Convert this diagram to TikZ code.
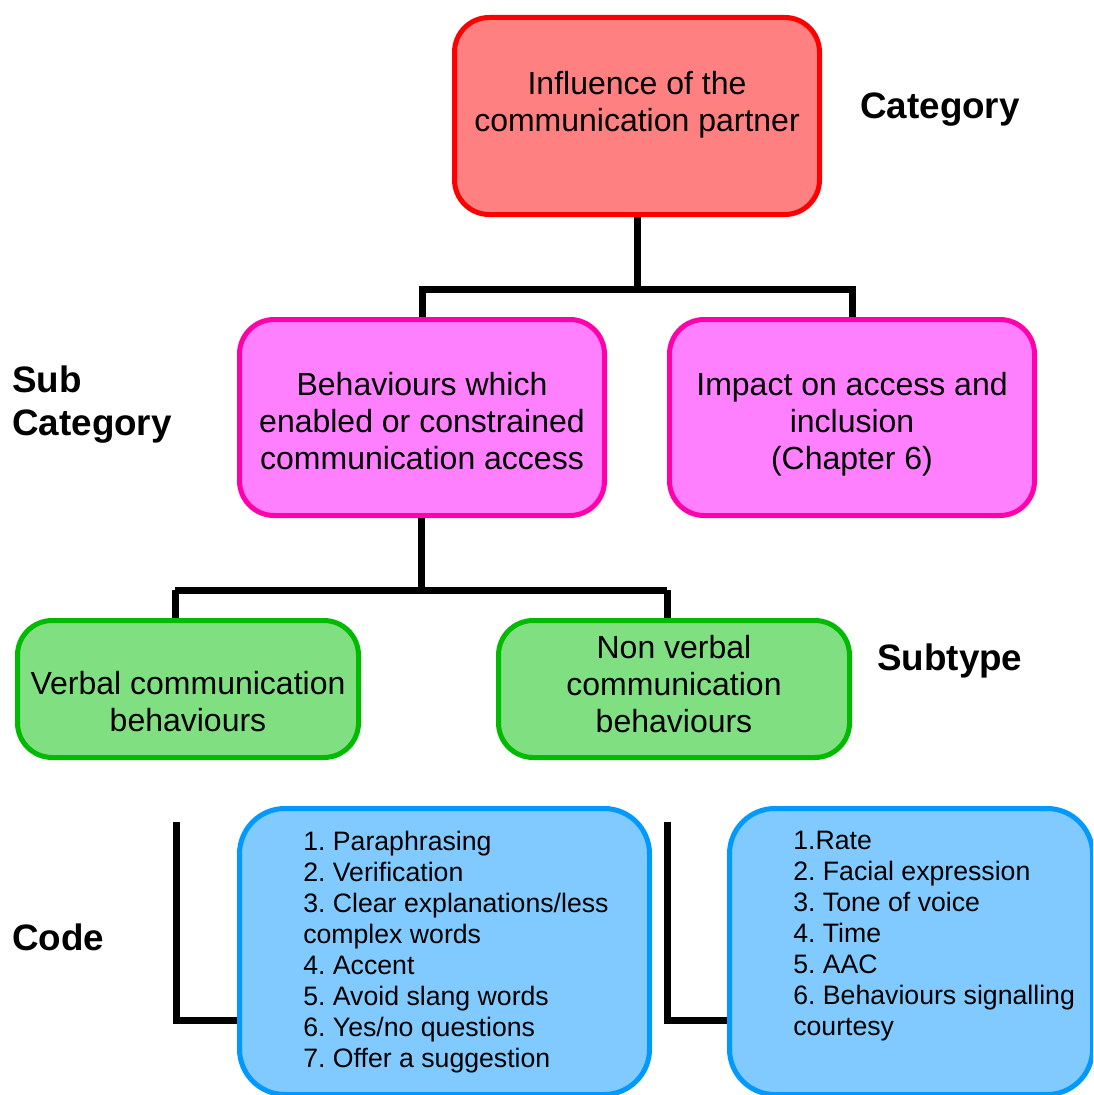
\documentclass[tikz,border=0pt]{standalone}
\usepackage{fontspec}
\setmainfont{Liberation Sans}
\frenchspacing
\begin{document}
\begin{tikzpicture}[x=0.75pt,y=-0.75pt,
  box/.style={draw,line width=3.75pt,rounded corners=26pt,inner sep=0pt},
  catbox/.style={box,draw=red,fill=catfill},
  subbox/.style={box,draw=subedge,fill=subfill},
  typebox/.style={box,draw=typeedge,fill=typefill},
  codebox/.style={box,draw=codeedge,fill=codefill,rounded corners=34pt},
  conn/.style={line width=5.25pt,black},
  boxtext/.style={inner sep=0pt,align=center,font=\fontsize{24}{27.75}\selectfont},
  listtext/.style={inner sep=0pt,align=left,anchor=north west,font=\fontsize{20}{23.25}\selectfont},
  level/.style={inner sep=0pt,align=left,anchor=west,font=\fontsize{27.6}{32.25}\selectfont\bfseries}
]
\definecolor{catfill}{HTML}{FF8080}
\definecolor{subedge}{HTML}{FF00AA}
\definecolor{subfill}{HTML}{FF80FF}
\definecolor{typeedge}{HTML}{00BB00}
\definecolor{typefill}{HTML}{80DF80}
\definecolor{codeedge}{HTML}{0099FF}
\definecolor{codefill}{HTML}{80CAFF}

\clip (0,0) rectangle (1093,1095);

% boxes
\node[catbox,minimum width=273.75pt,minimum height=147.75pt] (cat) at (637,116) {};
\node[subbox,minimum width=273.75pt,minimum height=147pt] (subL) at (422,417.5) {};
\node[subbox,minimum width=273.75pt,minimum height=147pt] (subR) at (852,417.5) {};
\node[typebox,minimum width=255.75pt,minimum height=102.75pt] (typeL) at (188,689) {};
\node[typebox,minimum width=263.25pt,minimum height=102.75pt] (typeR) at (674,689) {};
\node[codebox,minimum width=307.5pt,minimum height=214.5pt] (codeL) at (444.5,951.5) {};
\node[codebox,minimum width=272.25pt,minimum height=214.5pt] (codeR) at (911,951.5) {};

% box texts
\node[boxtext] (catT) at (637,105) {Influence of the\\communication partner};
\node[boxtext] (subLT) at (422,421) {Behaviours which\\enabled or constrained\\communication access};
\node[boxtext] (subRT) at (852,424) {Impact on access and\\inclusion\\(Chapter 6)};
\node[boxtext] (typeLT) at (188,702) {Verbal communication\\behaviours};
\node[boxtext] (typeRT) at (674,684) {Non verbal\\communication\\behaviours};
\node[listtext] (codeLT) at (303,831) {1. Paraphrasing\\2. Verification\\3. Clear explanations/less\\complex words\\4. Accent\\5. Avoid slang words\\6. Yes/no questions\\7. Offer a suggestion};
\node[listtext] (codeRT) at (793,831) {1.Rate\\2. Facial expression\\3. Tone of voice\\4. Time\\5. AAC\\6. Behaviours signalling\\courtesy};

% level labels
\node[level] (lvCat) at (860,110) {Category};
\node[level] (lvSub) at (12,405) {Sub\\Category};
\node[level] (lvType) at (877,661) {Subtype};
\node[level] (lvCode) at (12,937) {Code};

% connectors
\coordinate (j1) at (637,289);
\draw[conn] (cat.south) -- (j1);
\draw[conn] (j1) -| (subL.north);
\draw[conn] (j1) -| (subR.north);

\coordinate (j2) at (421,590);
\coordinate (tL) at (175,590);
\coordinate (tR) at (667,590);
\draw[conn] (subL.south -| j2) -- (j2);
\draw[conn] (tL) -- (tR);
\draw[conn] (tL) -- (tL |- typeL.north);
\draw[conn] (tR) -- (tR |- typeR.north);

\coordinate (bL) at (176,822);
\coordinate (eL) at (176,1020);
\draw[conn] (bL) -- (eL) -- (eL -| codeL.west);
\coordinate (bR) at (667,822);
\coordinate (eR) at (667,1020);
\draw[conn] (bR) -- (eR) -- (eR -| codeR.west);
\end{tikzpicture}
\end{document}
